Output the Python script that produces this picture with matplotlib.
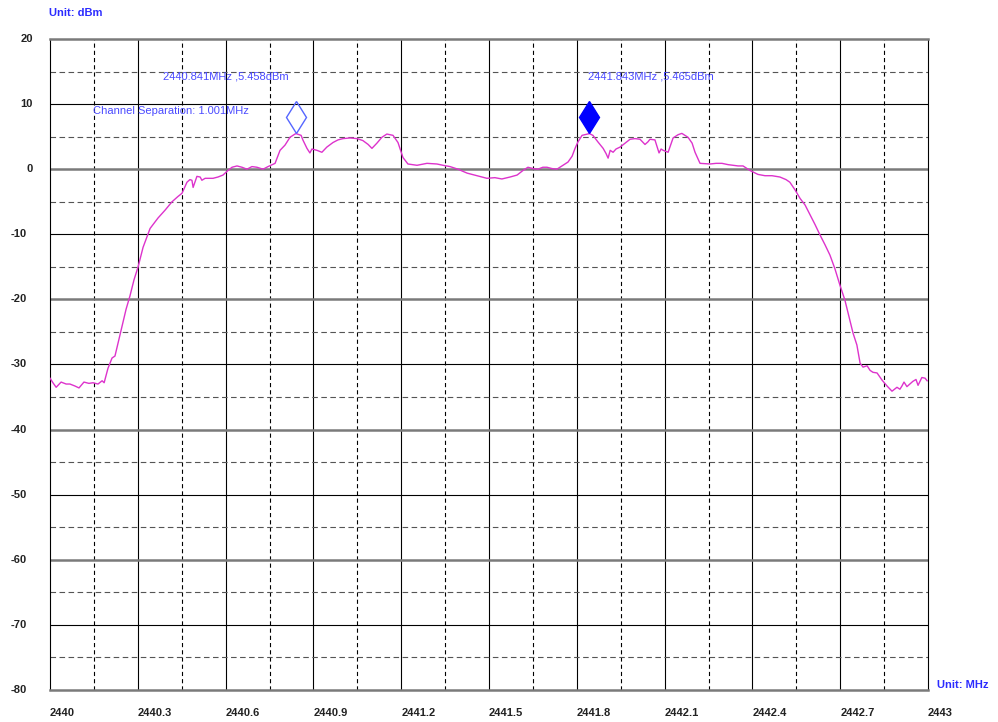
import numpy as np
import matplotlib
matplotlib.use("Agg")
import matplotlib.pyplot as plt
from matplotlib.transforms import ScaledTranslation

plt.rcParams["font.family"] = ["Liberation Sans", "DejaVu Sans"]
plt.rcParams["lines.scale_dashes"] = False

# spectrum trace, offset from 2440 MHz and level in dBm
freq_offset = [
    0.000, 0.010, 0.021, 0.038, 0.055, 0.068, 0.085, 0.099, 0.116, 0.133,
    0.147, 0.164, 0.178, 0.185, 0.198, 0.212, 0.222, 0.243, 0.260, 0.273,
    0.287, 0.301, 0.318, 0.342, 0.369, 0.393, 0.417, 0.437, 0.451, 0.468,
    0.478, 0.485, 0.489, 0.502, 0.513, 0.519, 0.530, 0.557, 0.574, 0.591,
    0.608, 0.622, 0.639, 0.656, 0.673, 0.690, 0.707, 0.728, 0.745, 0.769,
    0.786, 0.803, 0.820, 0.837, 0.841, 0.858, 0.864, 0.878, 0.888, 0.895,
    0.912, 0.929, 0.946, 0.967, 0.984, 1.001, 1.025, 1.049, 1.069, 1.087,
    1.100, 1.117, 1.134, 1.151, 1.172, 1.189, 1.206, 1.223, 1.254, 1.288,
    1.322, 1.343, 1.367, 1.394, 1.425, 1.459, 1.493, 1.520, 1.544, 1.572,
    1.596, 1.616, 1.633, 1.650, 1.667, 1.684, 1.698, 1.715, 1.732, 1.753,
    1.770, 1.784, 1.794, 1.804, 1.818, 1.843, 1.855, 1.872, 1.890, 1.900,
    1.907, 1.914, 1.924, 1.934, 1.948, 1.965, 1.982, 1.999, 2.016, 2.033,
    2.043, 2.050, 2.067, 2.081, 2.088, 2.095, 2.112, 2.129, 2.146, 2.159,
    2.180, 2.194, 2.204, 2.221, 2.255, 2.276, 2.296, 2.317, 2.334, 2.351,
    2.368, 2.392, 2.419, 2.443, 2.467, 2.494, 2.515, 2.528, 2.546, 2.563,
    2.580, 2.597, 2.614, 2.631, 2.648, 2.665, 2.682, 2.699, 2.716, 2.733,
    2.744, 2.757, 2.768, 2.778, 2.792, 2.802, 2.812, 2.826, 2.843, 2.860,
    2.877, 2.894, 2.904, 2.911, 2.918, 2.928, 2.938, 2.948, 2.959, 2.966,
    2.979, 2.990, 2.997,
]
level_dbm = [
    -32.1, -32.8, -33.5, -32.7, -33.0, -33.0, -33.3, -33.6, -32.7, -32.9,
    -32.8, -33.0, -32.5, -32.8, -30.6, -29.0, -28.7, -24.7, -21.5, -19.5,
    -17.0, -15.0, -12.0, -9.1, -7.5, -6.3, -5.0, -4.2, -3.7, -2.0,
    -1.6, -1.7, -2.8, -1.1, -1.2, -1.7, -1.4, -1.4, -1.2, -0.9,
    -0.2, 0.3, 0.5, 0.3, 0.0, 0.4, 0.3, 0.0, 0.4, 0.9,
    2.9, 3.7, 4.9, 5.4, 5.458, 5.2, 4.5, 3.2, 2.5, 3.1,
    2.9, 2.6, 3.4, 4.1, 4.5, 4.7, 4.8, 4.7, 4.4, 3.8,
    3.2, 4.0, 4.9, 5.4, 5.2, 4.1, 1.8, 0.8, 0.6, 0.9,
    0.8, 0.6, 0.4, 0.0, -0.6, -1.0, -1.4, -1.3, -1.5, -1.2,
    -0.9, -0.2, 0.3, 0.1, 0.0, 0.3, 0.3, 0.1, 0.0, 0.6,
    1.1, 2.0, 3.2, 4.2, 5.2, 5.465, 5.2, 4.2, 3.2, 2.4,
    1.7, 2.9, 2.6, 3.1, 3.4, 4.0, 4.6, 4.7, 4.6, 3.8,
    4.2, 4.6, 4.5, 2.5, 3.1, 2.9, 2.6, 4.8, 5.3, 5.5,
    4.9, 4.0, 2.6, 0.9, 0.8, 0.9, 0.9, 0.7, 0.6, 0.5,
    0.5, -0.2, -0.8, -1.0, -1.0, -1.2, -1.6, -2.0, -3.2, -4.5,
    -5.5, -7.0, -8.5, -10.1, -11.6, -13.2, -15.3, -17.8, -20.1, -23.2,
    -25.2, -27.0, -29.8, -30.4, -30.2, -30.9, -31.2, -31.3, -32.4, -33.3,
    -34.1, -33.5, -33.8, -33.3, -32.7, -33.4, -33.0, -32.6, -32.3, -33.2,
    -32.0, -32.1, -32.5,
]

marker_freq = [2440.841, 2441.843]
marker_level = [5.458, 5.465]
marker_text = ["2440.841MHz ,5.458dBm", "2441.843MHz ,5.465dBm"]
separation_text = "Channel Separation: 1.001MHz"

x_ticks = [2440, 2440.3, 2440.6, 2440.9, 2441.2, 2441.5, 2441.8,
           2442.1, 2442.4, 2442.7, 2443]
x_labels = ["2440", "2440.3", "2440.6", "2440.9", "2441.2", "2441.5",
            "2441.8", "2442.1", "2442.4", "2442.7", "2443"]
y_ticks = [20, 10, 0, -10, -20, -30, -40, -50, -60, -70, -80]

freq = 2440 + np.array(freq_offset)

fig = plt.figure(figsize=(9.98, 7.22), dpi=100)
ax = fig.add_axes([50 / 998, 32 / 722, 878 / 998, 651 / 722])
ax.set_xlim(2440, 2443)
ax.set_ylim(-80, 20)

# grid
for i, f in enumerate(np.arange(2440.15, 2443, 0.15)):
    if i % 2 == 0:
        ax.axvline(f, color="black", lw=0.8, dashes=(3, 2.2), zorder=1)
    else:
        ax.axvline(f, color="black", lw=0.8, zorder=1)
for v in range(-75, 20, 5):
    if v % 20 == 0:
        ax.axhline(v, color="#7a7a7a", lw=1.8, zorder=1)
    elif v % 10 == 0:
        ax.axhline(v, color="black", lw=0.8, zorder=1)
    else:
        ax.axhline(v, color="#555555", lw=0.8, dashes=(4, 2.5), zorder=1)

for side in ["top", "bottom"]:
    ax.spines[side].set_color("#7a7a7a")
    ax.spines[side].set_linewidth(1.8)
for side in ["left", "right"]:
    ax.spines[side].set_color("black")
    ax.spines[side].set_linewidth(0.8)

ax.plot(freq, level_dbm, color="#dd33cc", lw=1.0, zorder=3)

# markers sit just above each peak
lift = ScaledTranslation(0, 12 / 72, fig.dpi_scale_trans)
ax.plot(marker_freq[0], marker_level[0], marker="d", ms=16.5, mfc="none",
        mec="#5566ff", mew=1.0, transform=ax.transData + lift, zorder=4)
ax.plot(marker_freq[1], marker_level[1], marker="d", ms=16.5, mfc="#0000ff",
        mec="#0000ff", mew=1.0, transform=ax.transData + lift, zorder=4)

txt_color = "#4a4aff"
ax.text(2440.386, 14.3, marker_text[0], color=txt_color, fontsize=8,
        ha="left", va="center", zorder=5)
ax.text(2441.838, 14.3, marker_text[1], color=txt_color, fontsize=8,
        ha="left", va="center", zorder=5)
ax.text(2440.147, 9.0, separation_text, color=txt_color, fontsize=8,
        ha="left", va="center", zorder=5)

# axis labels
ax.set_xticks(x_ticks)
ax.set_xticklabels(x_labels, fontsize=8, fontweight="bold", color="#222222")
for lab in ax.get_xticklabels():
    lab.set_ha("left")
ax.tick_params(axis="x", length=0, pad=13)
ax.set_yticks([])
for v in y_ticks:
    right = -17 / 878 if v >= 0 else -23 / 878
    ax.text(right, v, str(v), transform=ax.get_yaxis_transform(),
            fontsize=8, fontweight="bold", color="#222222",
            ha="right", va="center")

fig.text(49 / 998, 1 - 13 / 722, "Unit: dBm", color="#2b2bff",
         fontsize=8, fontweight="bold", ha="left", va="center")
fig.text(937 / 998, 1 - 685 / 722, "Unit: MHz", color="#2b2bff",
         fontsize=8, fontweight="bold", ha="left", va="center")

fig.savefig("out.png", dpi=100)
